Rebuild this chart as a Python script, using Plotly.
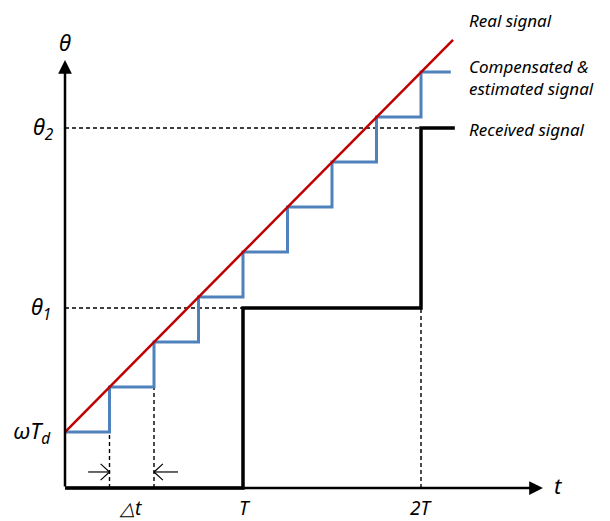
import plotly.graph_objects as go

# ---- data (t in units of Δt, θ in arbitrary units) ----
T = 4.0
dt = 1.0
theta1 = 4.0
theta2 = 8.0
wTd = 1.244

real_t = [0.0, 8.72]
real_theta = [1.244, 9.96]

est_t = [0, 1, 2, 3, 4, 5, 6, 7, 8, 8.67]
est_theta = [1.244, 2.244, 3.244, 4.244, 5.244, 6.244, 7.244, 8.244, 9.244, 9.244]

recv_t = [0, 4, 4, 8, 8, 8.76]
recv_theta = [0, 0, 4, 4, 8, 8]

x_axis_end = 10.74
y_axis_end = 9.51

FONT = "Noto Sans"
OFF = 8  # page body margin in px

fig = go.Figure()

dash = "4px,3px"
dline = dict(color="black", width=1.4, dash=dash)
# guide dashed lines
fig.add_trace(go.Scatter(x=[0, 2 * T], y=[theta2, theta2], mode="lines", line=dline, hoverinfo="skip"))
fig.add_trace(go.Scatter(x=[0, T], y=[theta1, theta1], mode="lines", line=dline, hoverinfo="skip"))
fig.add_trace(go.Scatter(x=[2 * T, 2 * T], y=[0, theta1], mode="lines", line=dline, hoverinfo="skip"))
fig.add_trace(go.Scatter(x=[est_t[1], est_t[1]], y=[0, est_theta[1]], mode="lines", line=dline, hoverinfo="skip"))
fig.add_trace(go.Scatter(x=[est_t[2], est_t[2]], y=[0, est_theta[2]], mode="lines", line=dline, hoverinfo="skip"))

# signals
fig.add_trace(go.Scatter(x=recv_t, y=recv_theta, mode="lines",
                         line=dict(color="black", width=3.5), hoverinfo="skip"))
fig.add_trace(go.Scatter(x=est_t, y=est_theta, mode="lines", line_shape="hv",
                         line=dict(color="#4F81BD", width=3), hoverinfo="skip"))
fig.add_trace(go.Scatter(x=real_t, y=real_theta, mode="lines",
                         line=dict(color="#C00000", width=2.5), hoverinfo="skip"))

# Δt chevron arrows
ay = 0.356
for tip, tail in [(est_t[1], 0.52), (est_t[2], 2.54)]:
    fig.add_trace(go.Scatter(x=[tail, tip], y=[ay, ay], mode="lines",
                             line=dict(color="black", width=1.2), hoverinfo="skip"))
    s = 1 if tip > tail else -1
    fig.add_trace(go.Scatter(x=[tip - s * 0.2, tip, tip - s * 0.2], y=[ay + 0.18, ay, ay - 0.18],
                             mode="lines", line=dict(color="black", width=1.2), hoverinfo="skip"))

# axes with arrows
arrow = dict(showarrow=True, arrowhead=2, arrowsize=1.1, arrowwidth=2.5, arrowcolor="black",
             axref="x", ayref="y", xref="x", yref="y", text="")
fig.add_annotation(x=x_axis_end, y=0, ax=0, ay=0, **arrow)
fig.add_annotation(x=0, y=y_axis_end, ax=0, ay=0, **arrow)

def label(x, y, text, size=20, xanchor="center", yanchor="middle"):
    fig.add_annotation(x=x, y=y, xref="x", yref="y", text=text, showarrow=False,
                       xanchor=xanchor, yanchor=yanchor, align="left",
                       font=dict(family=FONT, size=size, color="black", style="italic"))

label(0, 9.91, "θ", size=22)
label(-0.2, theta2, "θ<sub>2</sub>", size=22, xanchor="right")
label(-0.27, theta1, "θ<sub>1</sub>", size=22, xanchor="right")
label(-0.27, wTd, "ωT<sub>d</sub>", size=22, xanchor="right")
label(1.47, -0.44, "△t", size=19)
label(T + 0.05, -0.44, "T", size=19)
label(2 * T, -0.44, "2T", size=19)
label(10.94, 0.07, "t", size=22, xanchor="left")

label(9.03, 10.40, "Real signal", size=17, xanchor="left")
label(9.03, 9.13, "Compensated &amp;<br>estimated signal", size=17, xanchor="left")
label(9.03, 7.96, "Received signal", size=17, xanchor="left")

fig.update_layout(
    width=610 - OFF, height=521 - OFF, margin=dict(l=0, r=0, t=0, b=0),
    paper_bgcolor="white", plot_bgcolor="white", showlegend=False,
    xaxis=dict(range=[(OFF - 65) / 44.5, (610 - 65) / 44.5], visible=False, fixedrange=True),
    yaxis=dict(range=[(488 - 521) / 45, (488 - OFF) / 45], visible=False, fixedrange=True),
)

fig.write_html("out.html")
